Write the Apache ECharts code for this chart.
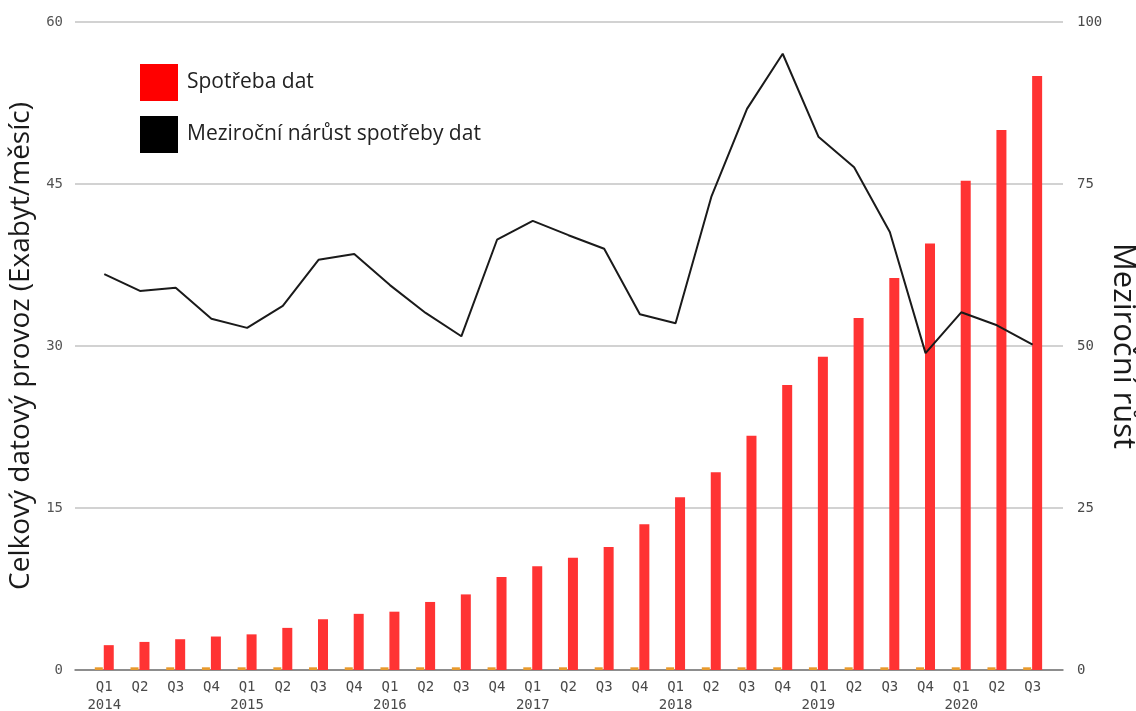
<!DOCTYPE html>
<html>
<head>
<meta charset="utf-8">
<script src="https://cdn.jsdelivr.net/npm/echarts@6/dist/echarts.min.js"></script>
<style>
  html, body { margin: 0; padding: 0; background: #fff; }
  #chart { width: 1136px; height: 711px; }
</style>
</head>
<body>
<div id="chart"></div>
<script>
// kvartaly 2014 Q1 .. 2020 Q3
const quarterLabels = ['Q1', 'Q2', 'Q3', 'Q4', 'Q1', 'Q2', 'Q3', 'Q4', 'Q1', 'Q2', 'Q3', 'Q4',
  'Q1', 'Q2', 'Q3', 'Q4', 'Q1', 'Q2', 'Q3', 'Q4', 'Q1', 'Q2', 'Q3', 'Q4', 'Q1', 'Q2', 'Q3']
const yearLabels = ['2014', '', '', '', '2015', '', '', '', '2016', '', '', '',
  '2017', '', '', '', '2018', '', '', '', '2019', '', '', '', '2020', '', '']

// Exabyt/mesic
const trafficValues = [2.3, 2.6, 2.85, 3.1, 3.3, 3.9, 4.7, 5.2, 5.4, 6.3, 7.0, 8.6,
  9.6, 10.4, 11.4, 13.5, 16.0, 18.3, 21.7, 26.4, 29.0, 32.6, 36.3, 39.5, 45.3, 50.0, 55.0]
// maly oranzovy sloupec vedle kazdeho cerveneho
const otherValues = [0.25, 0.25, 0.25, 0.25, 0.25, 0.25, 0.25, 0.25, 0.25, 0.25, 0.25, 0.25,
  0.25, 0.25, 0.25, 0.25, 0.25, 0.25, 0.25, 0.25, 0.25, 0.25, 0.25, 0.25, 0.25, 0.25, 0.25]
// mezirocni rust v %
const growthValues = [61.1, 58.5, 59.0, 54.2, 52.8, 56.2, 63.3, 64.2, 59.4, 55.1, 51.5, 66.4,
  69.3, 67.1, 65.0, 54.9, 53.5, 73.0, 86.6, 95.1, 82.3, 77.6, 67.6, 48.9, 55.2, 53.2, 50.2]

const leftTicks = { min: 0, max: 60, interval: 15 }
const rightTicks = { min: 0, max: 100, interval: 25 }

const indexes = quarterLabels.map((q, i) => i)
const withIndex = arr => arr.map((v, i) => [i, v])

const chart = echarts.init(document.getElementById('chart'))

chart.setOption({
  animation: false,
  grid: {
    left: 75,
    right: 73,
    top: 22,
    bottom: 41,
    outerBoundsMode: 'none'
  },
  legend: {
    data: [
      { name: 'Spotřeba dat', icon: 'rect', itemStyle: { color: '#ff0000' } },
      { name: 'Meziroční nárůst spotřeby dat', icon: 'rect', itemStyle: { color: '#000' } }
    ],
    orient: 'vertical',
    left: 135,
    top: 59,
    itemWidth: 38,
    itemHeight: 37,
    itemGap: 15,
    textStyle: {
      fontFamily: 'Open Sans',
      fontSize: 21,
      color: '#222',
      padding: [0, 0, 0, 4]
    }
  },
  xAxis: {
    type: 'value',
    min: -0.82,
    max: 26.85,
    splitLine: { show: false },
    axisTick: { show: false },
    axisLine: {
      lineStyle: { color: '#777', width: 1.5 }
    },
    axisLabel: {
      customValues: indexes,
      margin: 8,
      fontFamily: 'DejaVu Sans Mono',
      fontSize: 14,
      color: '#4a4a4a',
      lineHeight: 18,
      formatter: function (val) {
        const i = Math.round(val)
        return quarterLabels[i] + (yearLabels[i] ? '\n' + yearLabels[i] : '')
      }
    }
  },
  yAxis: [
    {
      type: 'value',
      min: leftTicks.min,
      max: leftTicks.max,
      interval: leftTicks.interval,
      name: 'Celkový datový provoz (Exabyt/měsíc)',
      nameLocation: 'middle',
      nameMoveOverlap: false,
      nameGap: 40,
      nameTextStyle: {
        fontFamily: 'Open Sans',
        fontSize: 28,
        color: '#1a1a1a'
      },
      axisLine: { show: false },
      axisTick: { show: false },
      axisLabel: {
        margin: 12,
        fontFamily: 'DejaVu Sans Mono',
        fontSize: 14,
        color: '#555'
      },
      splitLine: {
        lineStyle: { color: '#d2d2d2', width: 2 }
      }
    },
    {
      type: 'value',
      position: 'right',
      min: rightTicks.min,
      max: rightTicks.max,
      interval: rightTicks.interval,
      name: 'Meziroční růst',
      nameLocation: 'middle',
      nameRotate: -90,
      nameMoveOverlap: false,
      nameGap: 44,
      nameTextStyle: {
        fontFamily: 'Open Sans',
        fontSize: 31,
        color: '#1a1a1a'
      },
      axisLine: { show: false },
      axisTick: { show: false },
      axisLabel: {
        margin: 14,
        fontFamily: 'DejaVu Sans Mono',
        fontSize: 14,
        color: '#4a4a4a'
      },
      splitLine: { show: false }
    }
  ],
  series: [
    {
      name: 'Ostatní',
      type: 'bar',
      barWidth: 8,
      barGap: '12%',
      itemStyle: { color: '#e89a2c' },
      data: withIndex(otherValues)
    },
    {
      name: 'Spotřeba dat',
      type: 'bar',
      barWidth: 10,
      itemStyle: { color: '#ff3333' },
      data: withIndex(trafficValues)
    },
    {
      name: 'Meziroční nárůst spotřeby dat',
      type: 'line',
      yAxisIndex: 1,
      symbol: 'none',
      itemStyle: { color: '#000' },
      lineStyle: { color: '#1a1a1a', width: 2 },
      z: 5,
      data: withIndex(growthValues)
    }
  ]
})
</script>
</body>
</html>
